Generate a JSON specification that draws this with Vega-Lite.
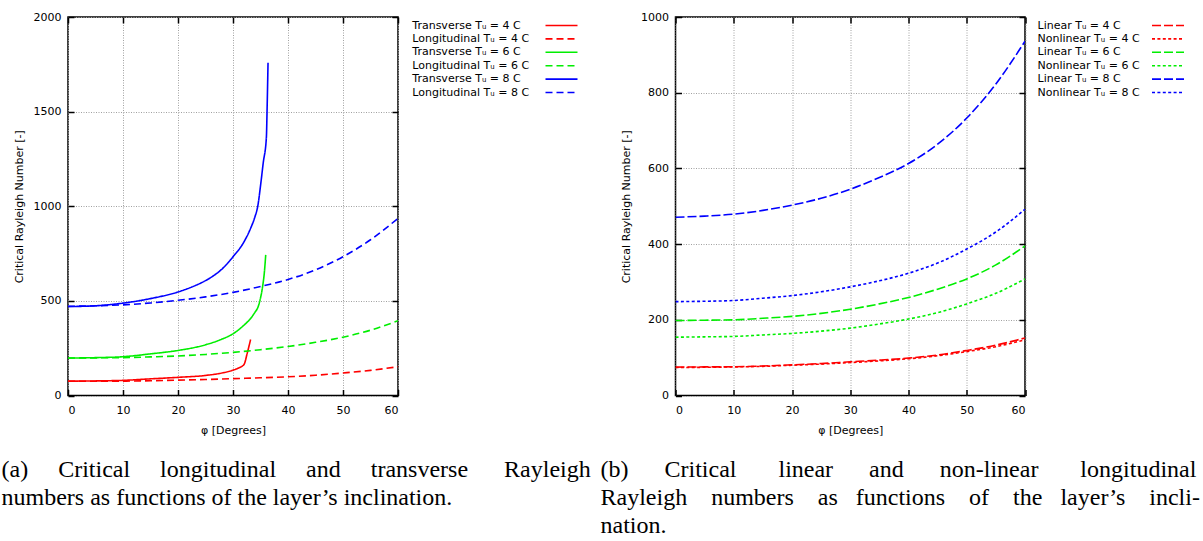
{
  "$schema": "https://vega.github.io/schema/vega-lite/v6.json",
  "autosize": {"type": "pad"},
  "padding": {"left": 0, "top": 10, "right": 0, "bottom": 0},
  "background": "white",
  "bounds": "flush",
  "spacing": 277.5,
  "datasets": {
    "a": [
      {"phi": 0, "Ra": 76, "series": "Transverse Tᵤ = 4 C"},
      {"phi": 5, "Ra": 77, "series": "Transverse Tᵤ = 4 C"},
      {"phi": 10, "Ra": 80, "series": "Transverse Tᵤ = 4 C"},
      {"phi": 15, "Ra": 88, "series": "Transverse Tᵤ = 4 C"},
      {"phi": 20, "Ra": 96, "series": "Transverse Tᵤ = 4 C"},
      {"phi": 25, "Ra": 106, "series": "Transverse Tᵤ = 4 C"},
      {"phi": 28, "Ra": 119, "series": "Transverse Tᵤ = 4 C"},
      {"phi": 30, "Ra": 134, "series": "Transverse Tᵤ = 4 C"},
      {"phi": 31, "Ra": 145, "series": "Transverse Tᵤ = 4 C"},
      {"phi": 32, "Ra": 164, "series": "Transverse Tᵤ = 4 C"},
      {"phi": 32.6, "Ra": 225, "series": "Transverse Tᵤ = 4 C"},
      {"phi": 33.2, "Ra": 296, "series": "Transverse Tᵤ = 4 C"},
      {"phi": 0, "Ra": 75, "series": "Longitudinal Tᵤ = 4 C"},
      {"phi": 5, "Ra": 75.5, "series": "Longitudinal Tᵤ = 4 C"},
      {"phi": 10, "Ra": 76, "series": "Longitudinal Tᵤ = 4 C"},
      {"phi": 15, "Ra": 78, "series": "Longitudinal Tᵤ = 4 C"},
      {"phi": 20, "Ra": 81, "series": "Longitudinal Tᵤ = 4 C"},
      {"phi": 25, "Ra": 84.5, "series": "Longitudinal Tᵤ = 4 C"},
      {"phi": 30, "Ra": 89, "series": "Longitudinal Tᵤ = 4 C"},
      {"phi": 35, "Ra": 93.5, "series": "Longitudinal Tᵤ = 4 C"},
      {"phi": 40, "Ra": 99, "series": "Longitudinal Tᵤ = 4 C"},
      {"phi": 45, "Ra": 107, "series": "Longitudinal Tᵤ = 4 C"},
      {"phi": 50, "Ra": 119, "series": "Longitudinal Tᵤ = 4 C"},
      {"phi": 55, "Ra": 133, "series": "Longitudinal Tᵤ = 4 C"},
      {"phi": 60, "Ra": 152, "series": "Longitudinal Tᵤ = 4 C"},
      {"phi": 0, "Ra": 198, "series": "Transverse Tᵤ = 6 C"},
      {"phi": 5, "Ra": 200, "series": "Transverse Tᵤ = 6 C"},
      {"phi": 10, "Ra": 205, "series": "Transverse Tᵤ = 6 C"},
      {"phi": 15, "Ra": 220, "series": "Transverse Tᵤ = 6 C"},
      {"phi": 20, "Ra": 238, "series": "Transverse Tᵤ = 6 C"},
      {"phi": 25, "Ra": 268, "series": "Transverse Tᵤ = 6 C"},
      {"phi": 28, "Ra": 298, "series": "Transverse Tᵤ = 6 C"},
      {"phi": 30, "Ra": 326, "series": "Transverse Tᵤ = 6 C"},
      {"phi": 32, "Ra": 372, "series": "Transverse Tᵤ = 6 C"},
      {"phi": 33, "Ra": 400, "series": "Transverse Tᵤ = 6 C"},
      {"phi": 34, "Ra": 440, "series": "Transverse Tᵤ = 6 C"},
      {"phi": 34.5, "Ra": 464, "series": "Transverse Tᵤ = 6 C"},
      {"phi": 35, "Ra": 515, "series": "Transverse Tᵤ = 6 C"},
      {"phi": 35.4, "Ra": 579, "series": "Transverse Tᵤ = 6 C"},
      {"phi": 35.7, "Ra": 650, "series": "Transverse Tᵤ = 6 C"},
      {"phi": 35.95, "Ra": 743, "series": "Transverse Tᵤ = 6 C"},
      {"phi": 0, "Ra": 198, "series": "Longitudinal Tᵤ = 6 C"},
      {"phi": 5, "Ra": 199, "series": "Longitudinal Tᵤ = 6 C"},
      {"phi": 10, "Ra": 200, "series": "Longitudinal Tᵤ = 6 C"},
      {"phi": 15, "Ra": 204, "series": "Longitudinal Tᵤ = 6 C"},
      {"phi": 20, "Ra": 209, "series": "Longitudinal Tᵤ = 6 C"},
      {"phi": 25, "Ra": 217, "series": "Longitudinal Tᵤ = 6 C"},
      {"phi": 30, "Ra": 228, "series": "Longitudinal Tᵤ = 6 C"},
      {"phi": 35, "Ra": 242, "series": "Longitudinal Tᵤ = 6 C"},
      {"phi": 40, "Ra": 259, "series": "Longitudinal Tᵤ = 6 C"},
      {"phi": 45, "Ra": 281, "series": "Longitudinal Tᵤ = 6 C"},
      {"phi": 50, "Ra": 308, "series": "Longitudinal Tᵤ = 6 C"},
      {"phi": 55, "Ra": 345, "series": "Longitudinal Tᵤ = 6 C"},
      {"phi": 60, "Ra": 395, "series": "Longitudinal Tᵤ = 6 C"},
      {"phi": 0, "Ra": 470, "series": "Transverse Tᵤ = 8 C"},
      {"phi": 5, "Ra": 474, "series": "Transverse Tᵤ = 8 C"},
      {"phi": 10, "Ra": 488, "series": "Transverse Tᵤ = 8 C"},
      {"phi": 15, "Ra": 512, "series": "Transverse Tᵤ = 8 C"},
      {"phi": 20, "Ra": 547, "series": "Transverse Tᵤ = 8 C"},
      {"phi": 22.4, "Ra": 572, "series": "Transverse Tᵤ = 8 C"},
      {"phi": 25, "Ra": 607, "series": "Transverse Tᵤ = 8 C"},
      {"phi": 26.7, "Ra": 638, "series": "Transverse Tᵤ = 8 C"},
      {"phi": 28, "Ra": 668, "series": "Transverse Tᵤ = 8 C"},
      {"phi": 30, "Ra": 733, "series": "Transverse Tᵤ = 8 C"},
      {"phi": 32, "Ra": 812, "series": "Transverse Tᵤ = 8 C"},
      {"phi": 33.27, "Ra": 888, "series": "Transverse Tᵤ = 8 C"},
      {"phi": 34, "Ra": 945, "series": "Transverse Tᵤ = 8 C"},
      {"phi": 34.5, "Ra": 1000, "series": "Transverse Tᵤ = 8 C"},
      {"phi": 35.04, "Ra": 1117, "series": "Transverse Tᵤ = 8 C"},
      {"phi": 35.5, "Ra": 1230, "series": "Transverse Tᵤ = 8 C"},
      {"phi": 36.07, "Ra": 1364, "series": "Transverse Tᵤ = 8 C"},
      {"phi": 36.19, "Ra": 1500, "series": "Transverse Tᵤ = 8 C"},
      {"phi": 36.37, "Ra": 1758, "series": "Transverse Tᵤ = 8 C"},
      {"phi": 0, "Ra": 471, "series": "Longitudinal Tᵤ = 8 C"},
      {"phi": 5, "Ra": 474, "series": "Longitudinal Tᵤ = 8 C"},
      {"phi": 10, "Ra": 479, "series": "Longitudinal Tᵤ = 8 C"},
      {"phi": 15, "Ra": 489, "series": "Longitudinal Tᵤ = 8 C"},
      {"phi": 20, "Ra": 503, "series": "Longitudinal Tᵤ = 8 C"},
      {"phi": 25, "Ra": 521, "series": "Longitudinal Tᵤ = 8 C"},
      {"phi": 30, "Ra": 545, "series": "Longitudinal Tᵤ = 8 C"},
      {"phi": 35, "Ra": 576, "series": "Longitudinal Tᵤ = 8 C"},
      {"phi": 40, "Ra": 613, "series": "Longitudinal Tᵤ = 8 C"},
      {"phi": 45, "Ra": 664, "series": "Longitudinal Tᵤ = 8 C"},
      {"phi": 50, "Ra": 733, "series": "Longitudinal Tᵤ = 8 C"},
      {"phi": 55, "Ra": 823, "series": "Longitudinal Tᵤ = 8 C"},
      {"phi": 60, "Ra": 936, "series": "Longitudinal Tᵤ = 8 C"}
    ],
    "b": [
      {"phi": 0, "Ra": 75, "series": "Linear Tᵤ = 4 C"},
      {"phi": 5, "Ra": 75.5, "series": "Linear Tᵤ = 4 C"},
      {"phi": 10, "Ra": 76, "series": "Linear Tᵤ = 4 C"},
      {"phi": 15, "Ra": 78, "series": "Linear Tᵤ = 4 C"},
      {"phi": 20, "Ra": 81, "series": "Linear Tᵤ = 4 C"},
      {"phi": 25, "Ra": 84.5, "series": "Linear Tᵤ = 4 C"},
      {"phi": 30, "Ra": 89, "series": "Linear Tᵤ = 4 C"},
      {"phi": 35, "Ra": 93.5, "series": "Linear Tᵤ = 4 C"},
      {"phi": 40, "Ra": 99, "series": "Linear Tᵤ = 4 C"},
      {"phi": 45, "Ra": 107, "series": "Linear Tᵤ = 4 C"},
      {"phi": 50, "Ra": 119, "series": "Linear Tᵤ = 4 C"},
      {"phi": 55, "Ra": 133, "series": "Linear Tᵤ = 4 C"},
      {"phi": 60, "Ra": 152, "series": "Linear Tᵤ = 4 C"},
      {"phi": 0, "Ra": 74, "series": "Nonlinear Tᵤ = 4 C"},
      {"phi": 5, "Ra": 74.5, "series": "Nonlinear Tᵤ = 4 C"},
      {"phi": 10, "Ra": 75.5, "series": "Nonlinear Tᵤ = 4 C"},
      {"phi": 15, "Ra": 77, "series": "Nonlinear Tᵤ = 4 C"},
      {"phi": 20, "Ra": 80, "series": "Nonlinear Tᵤ = 4 C"},
      {"phi": 25, "Ra": 83, "series": "Nonlinear Tᵤ = 4 C"},
      {"phi": 30, "Ra": 87, "series": "Nonlinear Tᵤ = 4 C"},
      {"phi": 35, "Ra": 91.5, "series": "Nonlinear Tᵤ = 4 C"},
      {"phi": 40, "Ra": 97, "series": "Nonlinear Tᵤ = 4 C"},
      {"phi": 45, "Ra": 105, "series": "Nonlinear Tᵤ = 4 C"},
      {"phi": 50, "Ra": 116, "series": "Nonlinear Tᵤ = 4 C"},
      {"phi": 55, "Ra": 129, "series": "Nonlinear Tᵤ = 4 C"},
      {"phi": 60, "Ra": 147, "series": "Nonlinear Tᵤ = 4 C"},
      {"phi": 0, "Ra": 198, "series": "Linear Tᵤ = 6 C"},
      {"phi": 5, "Ra": 199, "series": "Linear Tᵤ = 6 C"},
      {"phi": 10, "Ra": 200, "series": "Linear Tᵤ = 6 C"},
      {"phi": 15, "Ra": 204, "series": "Linear Tᵤ = 6 C"},
      {"phi": 20, "Ra": 209, "series": "Linear Tᵤ = 6 C"},
      {"phi": 25, "Ra": 217, "series": "Linear Tᵤ = 6 C"},
      {"phi": 30, "Ra": 228, "series": "Linear Tᵤ = 6 C"},
      {"phi": 35, "Ra": 242, "series": "Linear Tᵤ = 6 C"},
      {"phi": 40, "Ra": 259, "series": "Linear Tᵤ = 6 C"},
      {"phi": 45, "Ra": 281, "series": "Linear Tᵤ = 6 C"},
      {"phi": 50, "Ra": 308, "series": "Linear Tᵤ = 6 C"},
      {"phi": 55, "Ra": 345, "series": "Linear Tᵤ = 6 C"},
      {"phi": 60, "Ra": 395, "series": "Linear Tᵤ = 6 C"},
      {"phi": 0, "Ra": 154, "series": "Nonlinear Tᵤ = 6 C"},
      {"phi": 5, "Ra": 155, "series": "Nonlinear Tᵤ = 6 C"},
      {"phi": 10, "Ra": 156, "series": "Nonlinear Tᵤ = 6 C"},
      {"phi": 15, "Ra": 160, "series": "Nonlinear Tᵤ = 6 C"},
      {"phi": 20, "Ra": 164, "series": "Nonlinear Tᵤ = 6 C"},
      {"phi": 25, "Ra": 170, "series": "Nonlinear Tᵤ = 6 C"},
      {"phi": 30, "Ra": 178, "series": "Nonlinear Tᵤ = 6 C"},
      {"phi": 35, "Ra": 189, "series": "Nonlinear Tᵤ = 6 C"},
      {"phi": 40, "Ra": 202, "series": "Nonlinear Tᵤ = 6 C"},
      {"phi": 45, "Ra": 219, "series": "Nonlinear Tᵤ = 6 C"},
      {"phi": 50, "Ra": 242, "series": "Nonlinear Tᵤ = 6 C"},
      {"phi": 55, "Ra": 270, "series": "Nonlinear Tᵤ = 6 C"},
      {"phi": 60, "Ra": 308, "series": "Nonlinear Tᵤ = 6 C"},
      {"phi": 0, "Ra": 471, "series": "Linear Tᵤ = 8 C"},
      {"phi": 5, "Ra": 474, "series": "Linear Tᵤ = 8 C"},
      {"phi": 10, "Ra": 479, "series": "Linear Tᵤ = 8 C"},
      {"phi": 15, "Ra": 489, "series": "Linear Tᵤ = 8 C"},
      {"phi": 20, "Ra": 503, "series": "Linear Tᵤ = 8 C"},
      {"phi": 25, "Ra": 521, "series": "Linear Tᵤ = 8 C"},
      {"phi": 30, "Ra": 545, "series": "Linear Tᵤ = 8 C"},
      {"phi": 35, "Ra": 576, "series": "Linear Tᵤ = 8 C"},
      {"phi": 40, "Ra": 613, "series": "Linear Tᵤ = 8 C"},
      {"phi": 45, "Ra": 664, "series": "Linear Tᵤ = 8 C"},
      {"phi": 50, "Ra": 733, "series": "Linear Tᵤ = 8 C"},
      {"phi": 55, "Ra": 823, "series": "Linear Tᵤ = 8 C"},
      {"phi": 60, "Ra": 936, "series": "Linear Tᵤ = 8 C"},
      {"phi": 0, "Ra": 248, "series": "Nonlinear Tᵤ = 8 C"},
      {"phi": 5, "Ra": 249, "series": "Nonlinear Tᵤ = 8 C"},
      {"phi": 10, "Ra": 251, "series": "Nonlinear Tᵤ = 8 C"},
      {"phi": 15, "Ra": 257, "series": "Nonlinear Tᵤ = 8 C"},
      {"phi": 20, "Ra": 264, "series": "Nonlinear Tᵤ = 8 C"},
      {"phi": 25, "Ra": 274, "series": "Nonlinear Tᵤ = 8 C"},
      {"phi": 30, "Ra": 287, "series": "Nonlinear Tᵤ = 8 C"},
      {"phi": 35, "Ra": 303, "series": "Nonlinear Tᵤ = 8 C"},
      {"phi": 40, "Ra": 323, "series": "Nonlinear Tᵤ = 8 C"},
      {"phi": 45, "Ra": 350, "series": "Nonlinear Tᵤ = 8 C"},
      {"phi": 50, "Ra": 387, "series": "Nonlinear Tᵤ = 8 C"},
      {"phi": 55, "Ra": 432, "series": "Nonlinear Tᵤ = 8 C"},
      {"phi": 60, "Ra": 492, "series": "Nonlinear Tᵤ = 8 C"}
    ]
  },
  "resolve": {
    "scale": {"color": "independent", "strokeDash": "independent"},
    "legend": {"color": "independent", "strokeDash": "independent"}
  },
  "hconcat": [
    {
      "width": 330,
      "height": 378.5,
      "data": {"name": "a"},
      "title": {
        "text": ["(a)\u00a0\u00a0\u00a0\u00a0 Critical\u00a0\u00a0\u00a0\u00a0 longitudinal\u00a0\u00a0\u00a0\u00a0 and\u00a0\u00a0\u00a0\u00a0 transverse\u00a0\u00a0\u00a0\u00a0\u00a0 Rayleigh", "numbers as functions of the layer’s inclination."],
        "orient": "bottom", "anchor": "start", "frame": "group", "align": "left",
        "dx": -66.5, "offset": 22.5
      },
      "resolve": {"axis": {"x": "independent", "y": "independent"}},
      "layer": [
        {
          "mark": {"type": "line", "strokeWidth": 1.6, "interpolate": "monotone", "clip": true},
          "encoding": {
            "x": {"field": "phi", "type": "quantitative", "title": "φ [Degrees]",
                  "scale": {"domain": [0, 60], "nice": false},
                  "axis": {"values": [0, 10, 20, 30, 40, 50, 60]}},
            "y": {"field": "Ra", "type": "quantitative", "title": "Critical Rayleigh Number [-]",
                  "scale": {"domain": [0, 2000], "nice": false},
                  "axis": {"values": [0, 500, 1000, 1500, 2000], "format": "d"}},
            "color": {"field": "series", "type": "nominal",
                      "scale": {"domain": ["Transverse Tᵤ = 4 C", "Longitudinal Tᵤ = 4 C", "Transverse Tᵤ = 6 C", "Longitudinal Tᵤ = 6 C", "Transverse Tᵤ = 8 C", "Longitudinal Tᵤ = 8 C"],
                                "range": ["#ff0000", "#ff0000", "#00ee00", "#00ee00", "#0000ff", "#0000ff"]},
                      "legend": {"labelOffset": -154.7, "offset": 153.7}},
            "strokeDash": {"field": "series", "type": "nominal",
                      "scale": {"domain": ["Transverse Tᵤ = 4 C", "Longitudinal Tᵤ = 4 C", "Transverse Tᵤ = 6 C", "Longitudinal Tᵤ = 6 C", "Transverse Tᵤ = 8 C", "Longitudinal Tᵤ = 8 C"],
                                "range": [[1, 0], [7, 4], [1, 0], [7, 4], [1, 0], [7, 4]]},
                      "legend": {"labelOffset": -154.7, "offset": 153.7}}
          }
        },
        {
          "mark": {"type": "line", "strokeOpacity": 0},
          "encoding": {
            "x": {"field": "phi", "type": "quantitative",
                  "axis": {"orient": "top", "values": [0, 10, 20, 30, 40, 50, 60], "labels": false, "title": null, "grid": false}},
            "y": {"field": "Ra", "type": "quantitative",
                  "axis": {"orient": "right", "values": [0, 500, 1000, 1500, 2000], "labels": false, "title": null, "grid": false}}
          }
        }
      ]
    },
    {
      "width": 349.5,
      "height": 378.5,
      "data": {"name": "b"},
      "title": {
        "text": ["(b)\u00a0\u00a0\u00a0\u00a0\u00a0 Critical\u00a0\u00a0\u00a0\u00a0\u00a0\u00a0 linear\u00a0\u00a0\u00a0\u00a0\u00a0 and\u00a0\u00a0\u00a0\u00a0\u00a0 non-linear\u00a0\u00a0\u00a0\u00a0\u00a0\u00a0 longitudinal", "Rayleigh\u00a0\u00a0\u00a0 numbers\u00a0\u00a0\u00a0 as\u00a0\u00a0 functions\u00a0\u00a0\u00a0 of\u00a0\u00a0\u00a0 the\u00a0\u00a0 layer’s\u00a0\u00a0\u00a0 incli-", "nation."],
        "orient": "bottom", "anchor": "start", "frame": "group", "align": "left",
        "dx": -75, "offset": 22.5
      },
      "resolve": {"axis": {"x": "independent", "y": "independent"}},
      "layer": [
        {
          "mark": {"type": "line", "strokeWidth": 1.6, "interpolate": "monotone", "clip": true},
          "encoding": {
            "x": {"field": "phi", "type": "quantitative", "title": "φ [Degrees]",
                  "scale": {"domain": [0, 60], "nice": false},
                  "axis": {"values": [0, 10, 20, 30, 40, 50, 60]}},
            "y": {"field": "Ra", "type": "quantitative", "title": "Critical Rayleigh Number [-]",
                  "scale": {"domain": [0, 1000], "nice": false},
                  "axis": {"values": [0, 200, 400, 600, 800, 1000], "format": "d"}},
            "color": {"field": "series", "type": "nominal",
                      "scale": {"domain": ["Linear Tᵤ = 4 C", "Nonlinear Tᵤ = 4 C", "Linear Tᵤ = 6 C", "Nonlinear Tᵤ = 6 C", "Linear Tᵤ = 8 C", "Nonlinear Tᵤ = 8 C"],
                                "range": ["#ff0000", "#ff0000", "#00ee00", "#00ee00", "#0000ff", "#0000ff"]},
                      "legend": {"labelOffset": -136, "offset": 133}},
            "strokeDash": {"field": "series", "type": "nominal",
                      "scale": {"domain": ["Linear Tᵤ = 4 C", "Nonlinear Tᵤ = 4 C", "Linear Tᵤ = 6 C", "Nonlinear Tᵤ = 6 C", "Linear Tᵤ = 8 C", "Nonlinear Tᵤ = 8 C"],
                                "range": [[9, 3], [3, 2.4], [9, 3], [3, 2.4], [9, 3], [3, 2.4]]},
                      "legend": {"labelOffset": -136, "offset": 133}}
          }
        },
        {
          "mark": {"type": "line", "strokeOpacity": 0},
          "encoding": {
            "x": {"field": "phi", "type": "quantitative",
                  "axis": {"orient": "top", "values": [0, 10, 20, 30, 40, 50, 60], "labels": false, "title": null, "grid": false}},
            "y": {"field": "Ra", "type": "quantitative",
                  "axis": {"orient": "right", "values": [0, 200, 400, 600, 800, 1000], "labels": false, "title": null, "grid": false}}
          }
        }
      ]
    }
  ],
  "config": {
    "view": {"stroke": "black", "strokeWidth": 1.5},
    "axis": {
      "domain": false,
      "grid": true,
      "gridColor": "#a0a0a0",
      "gridDash": [1, 1.5],
      "gridWidth": 1,
      "ticks": true,
      "tickColor": "black",
      "tickSize": -6,
      "tickWidth": 1.5,
      "labelFont": "DejaVu Sans",
      "labelFontSize": 11,
      "labelColor": "black",
      "titleFont": "DejaVu Sans",
      "titleFontSize": 11,
      "titleFontWeight": "normal",
      "titleColor": "black",
      "titlePadding": 9
    },
    "axisX": {"labelPadding": 15},
    "axisY": {"labelPadding": 13},
    "legend": {
      "orient": "right",
      "title": null,
      "symbolType": "M-4,0H4",
      "symbolSize": 64,
      "symbolStrokeWidth": 1.6,
      "symbolFillColor": "transparent",
      "labelFont": "DejaVu Sans",
      "labelFontSize": 11,
      "labelColor": "black",
      "labelAlign": "left",
      "rowPadding": 1.4,
      "padding": 3
    },
    "title": {
      "font": "Liberation Serif",
      "fontSize": 24,
      "fontWeight": "normal",
      "color": "black",
      "lineHeight": 28
    }
  }
}
